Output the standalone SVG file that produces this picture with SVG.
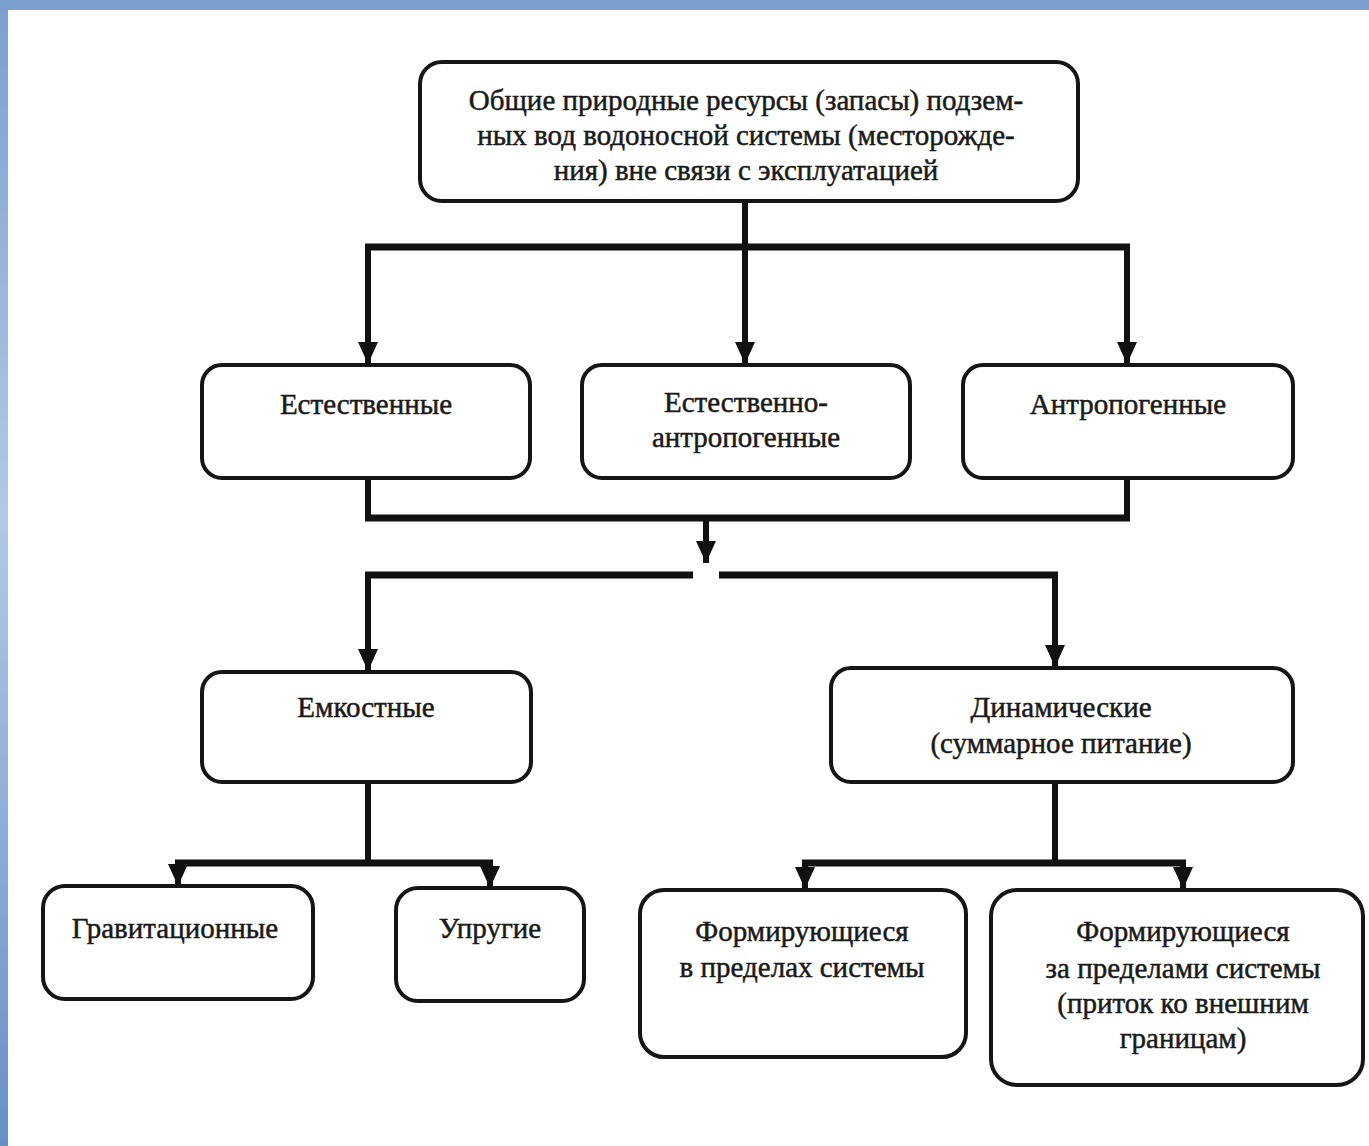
<svg xmlns="http://www.w3.org/2000/svg" width="1369" height="1146" viewBox="0 0 1369 1146">
  <defs>
    <linearGradient id="leftBar" x1="0" y1="0" x2="0" y2="1">
      <stop offset="0" stop-color="#7a9fcf"/>
      <stop offset="0.45" stop-color="#b3c8e6"/>
      <stop offset="1" stop-color="#6690c8"/>
    </linearGradient>
    <marker id="arrow" markerUnits="userSpaceOnUse" markerWidth="24" markerHeight="20" refX="22" refY="10" orient="auto">
      <path d="M0,0 L22,10 L0,20 z" fill="#111"/>
    </marker>
  </defs>
  <style>
    .box { fill: #ffffff; stroke: #151515; stroke-width: 4; }
    .t { font-family: "Liberation Serif", "Times New Roman", serif; font-size: 29px; fill: #1a1a1a; stroke: #1a1a1a; stroke-width: 0.5; text-anchor: middle; }
    .bar { fill: none; stroke: #111; stroke-width: 7; }
    .ln { fill: none; stroke: #111; stroke-width: 6; }
  </style>

  <rect x="0" y="0" width="1369" height="1146" fill="#ffffff"/>
  <rect x="0" y="0" width="8" height="1146" fill="url(#leftBar)"/>
  <rect x="0" y="0" width="1369" height="10" fill="#7a9fcf"/>

  <g id="connectors">
    <path class="ln" d="M745 200 V247"/>
    <path class="bar" d="M365 247 H1130"/>
    <path class="ln" d="M368 247 V364" marker-end="url(#arrow)"/>
    <path class="ln" d="M745 247 V364" marker-end="url(#arrow)"/>
    <path class="ln" d="M1127 247 V364" marker-end="url(#arrow)"/>

    <path class="ln" d="M368 478 V518"/>
    <path class="ln" d="M1127 478 V518"/>
    <path class="bar" d="M365 518 H1130"/>
    <path class="ln" d="M706 518 V563" marker-end="url(#arrow)"/>

    <path class="bar" d="M365 575 H693"/>
    <path class="bar" d="M719 575 H1058"/>
    <path class="ln" d="M368 575 V671" marker-end="url(#arrow)"/>
    <path class="ln" d="M1055 575 V667" marker-end="url(#arrow)"/>

    <path class="ln" d="M368 782 V863"/>
    <path class="bar" d="M175 863 H493"/>
    <path class="ln" d="M178 863 V886" marker-end="url(#arrow)"/>
    <path class="ln" d="M490 863 V888" marker-end="url(#arrow)"/>

    <path class="ln" d="M1055 782 V863"/>
    <path class="bar" d="M802 863 H1186"/>
    <path class="ln" d="M805 863 V889" marker-end="url(#arrow)"/>
    <path class="ln" d="M1183 863 V889" marker-end="url(#arrow)"/>
  </g>

  <g id="node-total">
    <rect class="box" x="420" y="62" width="658" height="139" rx="22"/>
    <text class="t" x="746" y="110">Общие природные ресурсы (запасы) подзем-</text>
    <text class="t" x="746" y="145">ных вод водоносной системы (месторожде-</text>
    <text class="t" x="746" y="180">ния) вне связи с эксплуатацией</text>
  </g>

  <g id="node-natural">
    <rect class="box" x="202" y="365" width="328" height="113" rx="20"/>
    <text class="t" x="366" y="414">Естественные</text>
  </g>

  <g id="node-natural-anthropogenic">
    <rect class="box" x="582" y="365" width="328" height="113" rx="20"/>
    <text class="t" x="746" y="412">Естественно-</text>
    <text class="t" x="746" y="447">антропогенные</text>
  </g>

  <g id="node-anthropogenic">
    <rect class="box" x="963" y="365" width="330" height="113" rx="20"/>
    <text class="t" x="1128" y="414">Антропогенные</text>
  </g>

  <g id="node-capacitive">
    <rect class="box" x="202" y="672" width="329" height="110" rx="20"/>
    <text class="t" x="366" y="717">Емкостные</text>
  </g>

  <g id="node-dynamic">
    <rect class="box" x="831" y="668" width="462" height="114" rx="20"/>
    <text class="t" x="1061" y="717">Динамические</text>
    <text class="t" x="1061" y="753">(суммарное питание)</text>
  </g>

  <g id="node-gravitational">
    <rect class="box" x="43" y="886" width="270" height="113" rx="22"/>
    <text class="t" x="175" y="938">Гравитационные</text>
  </g>

  <g id="node-elastic">
    <rect class="box" x="396" y="888" width="188" height="113" rx="22"/>
    <text class="t" x="490" y="938">Упругие</text>
  </g>

  <g id="node-within">
    <rect class="box" x="640" y="890" width="326" height="167" rx="24"/>
    <text class="t" x="802" y="941">Формирующиеся</text>
    <text class="t" x="802" y="977">в пределах системы</text>
  </g>

  <g id="node-outside">
    <rect class="box" x="991" y="890" width="372" height="195" rx="26"/>
    <text class="t" x="1183" y="941">Формирующиеся</text>
    <text class="t" x="1183" y="978">за пределами системы</text>
    <text class="t" x="1183" y="1013">(приток ко внешним</text>
    <text class="t" x="1183" y="1048">границам)</text>
  </g>
</svg>
